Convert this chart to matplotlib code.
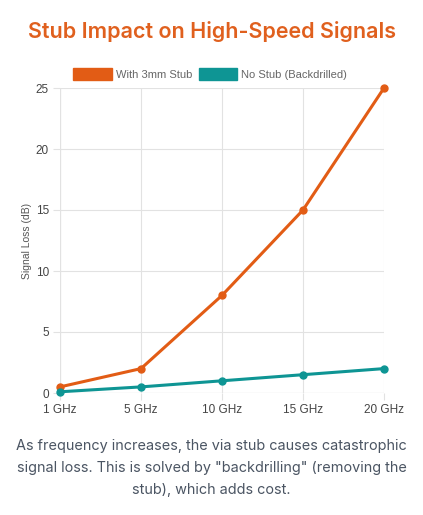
import matplotlib
matplotlib.use("Agg")
import matplotlib.pyplot as plt
from matplotlib.patches import Patch

categories = ["1 GHz", "5 GHz", "10 GHz", "15 GHz", "20 GHz"]
stub_values = [0.5, 2, 8, 15, 25]
backdrilled_values = [0.1, 0.5, 1, 1.5, 2]
series_names = ["With 3mm Stub", "No Stub (Backdrilled)"]
y_ticks = [0, 5, 10, 15, 20, 25]

orange = "#e25c15"
teal = "#0e9594"

fig = plt.figure(figsize=(4.23, 5.15), dpi=100)
ax = fig.add_axes([60/423, (515-393)/515, (384-60)/423, (393-88)/515])

x = list(range(len(categories)))
ax.plot(x, stub_values, color=orange, lw=2.2, marker="o", ms=5, zorder=3, clip_on=False)
ax.plot(x, backdrilled_values, color=teal, lw=2.2, marker="o", ms=5, zorder=3, clip_on=False)

ax.set_xlim(0, len(categories) - 1)
ax.set_ylim(0, 25)
ax.set_xticks(x)
ax.set_xticklabels(categories)
ax.set_yticks(y_ticks)
ax.grid(True, color="#e2e2e2", lw=0.8)
for s in ax.spines.values():
    s.set_visible(False)
ax.axvline(0, color="#d0d0d0", lw=0.8, zorder=1)
ax.axhline(0, color="#d0d0d0", lw=0.8, zorder=1)
ax.tick_params(axis="both", length=5, width=0.8, color="#e2e2e2", labelsize=8.5, labelcolor="#444444")
ax.tick_params(axis="x", pad=3)
ax.tick_params(axis="y", pad=3)
for lab in ax.get_xticklabels() + ax.get_yticklabels():
    lab.set_family("Liberation Sans")
ax.set_ylabel("Signal Loss (dB)", fontsize=7.5, color="#555555", family="Liberation Sans",
              va="center")
ax.yaxis.set_label_coords((27 - 60) / 324, 0.5)

handles = [Patch(facecolor=orange, edgecolor=orange), Patch(facecolor=teal, edgecolor=teal)]
leg = fig.legend(handles, series_names, loc="center", bbox_to_anchor=(210/423, 1 - 74/515),
                 ncol=2, frameon=False, handlelength=3.5, handleheight=1.2, handletextpad=0.35,
                 columnspacing=0.6, borderpad=0, prop={"family": "Liberation Sans", "size": 8})
for t in leg.get_texts():
    t.set_color("#666666")

fig.text(0.5, 1 - 32/515, "Stub Impact on High-Speed Signals", ha="center", va="center",
         fontsize=15.5, color="#e0601e", family="Inter", weight="semibold")

caption = ["As frequency increases, the via stub causes catastrophic",
           "signal loss. This is solved by \"backdrilling\" (removing the",
           "stub), which adds cost."]
for i, line in enumerate(caption):
    fig.text(0.5, 1 - (446 + 22*i)/515, line, ha="center", va="center",
             fontsize=10.4, color="#4b5563", family="Inter")

fig.savefig("out.png", dpi=100, facecolor="white")
